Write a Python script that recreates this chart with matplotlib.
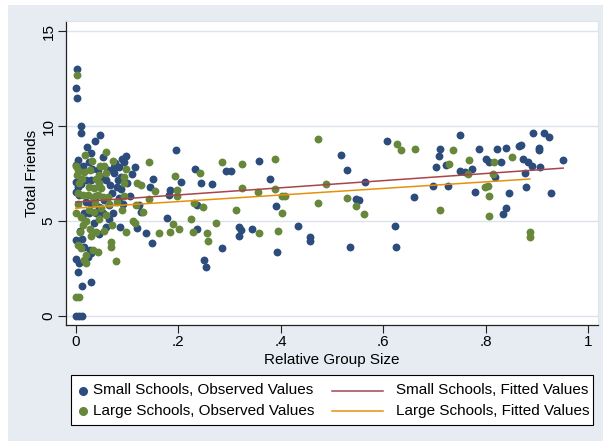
import numpy as np
import matplotlib.pyplot as plt
from matplotlib.patches import Rectangle
from matplotlib.lines import Line2D

plt.rcParams['font.family'] = ['Liberation Sans', 'DejaVu Sans']

# Small schools: relative group size, total friends
small_x = [0.002, 0.001, 0.003, 0.010, 0.010, 0.038, 0.047, 0.021, 0.030, 0.054,
           0.004, 0.001, 0.090, 0.098, 0.075, 0.085, 0.077, 0.032, 0.044, 0.062,
           0.074, 0.075, 0.000, 0.010, 0.020, 0.030, 0.059, 0.066, 0.082, 0.080,
           0.088, 0.000, 0.007, 0.020, 0.030, 0.045, 0.065, 0.016, 0.026, 0.040,
           0.053, 0.073, 0.086, 0.000, 0.012, 0.017, 0.027, 0.030, 0.023, 0.000,
           0.006, 0.004, 0.012, 0.030, 0.000, 0.007, 0.012, 0.005, 0.040, 0.055,
           0.070, 0.012, 0.035, 0.060, 0.008, 0.045, 0.065, 0.050, 0.015, 0.025,
           0.100, 0.105, 0.092, 0.110, 0.084,
           0.094, 0.116, 0.088, 0.196, 0.150, 0.144, 0.183, 0.181, 0.205, 0.233,
           0.245, 0.265, 0.293, 0.302, 0.358, 0.124, 0.236, 0.178, 0.120, 0.138,
           0.148, 0.236, 0.285, 0.250, 0.254, 0.319, 0.322, 0.319, 0.343, 0.127,
           0.379, 0.391, 0.393, 0.433, 0.457, 0.457, 0.517, 0.529, 0.547, 0.553,
           0.564, 0.535, 0.607, 0.623, 0.625, 0.660, 0.697, 0.703, 0.710, 0.708,
           0.723, 0.726, 0.750, 0.749, 0.760, 0.773, 0.787, 0.779, 0.800, 0.806,
           0.821, 0.829, 0.819, 0.839, 0.845, 0.840, 0.833, 0.864, 0.868, 0.872,
           0.883, 0.890, 0.877, 0.879, 0.892, 0.903, 0.903, 0.906, 0.914, 0.924,
           0.927, 0.951]
small_y = [13.00, 11.98, 11.49, 10.00, 9.65, 9.23, 9.51, 8.91, 8.60, 8.35,
           8.20, 7.96, 8.26, 8.42, 7.86, 7.86, 8.07, 7.72, 7.68, 7.68,
           7.77, 7.51, 7.07, 6.95, 7.16, 7.16, 7.16, 6.89, 7.16, 6.81,
           6.67, 6.54, 6.37, 6.00, 5.90, 5.75, 5.85, 5.40, 5.45, 5.40,
           5.45, 5.45, 4.67, 4.00, 4.04, 3.65, 3.47, 3.30, 3.12, 2.98,
           2.80, 2.33, 1.58, 1.81, 0.00, 0.00, 0.00, 6.80, 6.30, 6.10,
           6.50, 5.20, 4.90, 4.70, 4.50, 4.30, 5.10, 7.30, 7.90, 8.10,
           7.00, 6.30, 5.90, 7.50, 6.20,
           8.12, 7.86, 7.33, 8.74, 7.19, 6.81, 6.63, 6.37, 7.07, 7.72,
           7.02, 6.95, 7.62, 7.62, 8.16, 5.84, 5.84, 5.14, 4.61, 4.39,
           3.86, 4.58, 3.60, 2.95, 2.56, 4.70, 4.53, 4.21, 4.56, 5.49,
           7.21, 5.79, 3.37, 4.74, 4.14, 3.96, 8.49, 7.67, 6.16, 6.11,
           7.07, 3.65, 9.21, 4.74, 3.65, 6.28, 6.84, 7.83, 8.77, 8.42,
           7.95, 6.84, 9.53, 7.63, 7.60, 7.72, 8.81, 6.54, 8.26, 8.09,
           8.77, 8.09, 7.33, 8.82, 6.46, 5.68, 5.35, 8.95, 9.00, 8.26,
           8.12, 7.89, 7.51, 6.77, 9.61, 8.83, 8.74, 7.83, 9.61, 9.44,
           6.49, 8.21]

# Large schools
large_x = [0.002, 0.060, 0.018, 0.031, 0.072, 0.047, 0.055, 0.000, 0.004, 0.002,
           0.017, 0.027, 0.046, 0.059, 0.007, 0.040, 0.046, 0.036, 0.049, 0.004,
           0.014, 0.023, 0.033, 0.043, 0.053, 0.062, 0.118, 0.005, 0.025, 0.000,
           0.010, 0.020, 0.035, 0.045, 0.060, 0.015, 0.028, 0.040, 0.055, 0.070,
           0.004, 0.010, 0.069, 0.069, 0.033, 0.043, 0.020, 0.017, 0.020, 0.079,
           0.000, 0.006, 0.080, 0.090, 0.065, 0.012, 0.025, 0.038, 0.050, 0.030,
           0.008,
           0.143, 0.099, 0.094, 0.094, 0.119, 0.155, 0.194, 0.243, 0.285, 0.325,
           0.198, 0.198, 0.095, 0.142, 0.131, 0.231, 0.248, 0.312, 0.324, 0.356,
           0.112, 0.116, 0.098, 0.189, 0.202, 0.184, 0.163, 0.225, 0.229, 0.274,
           0.256, 0.259, 0.358, 0.127,
           0.389, 0.389, 0.402, 0.408, 0.402, 0.395, 0.473, 0.488, 0.473, 0.529,
           0.547, 0.563, 0.626, 0.634, 0.661, 0.711, 0.728, 0.736, 0.768, 0.766,
           0.799, 0.805, 0.806, 0.806, 0.816, 0.815, 0.852, 0.886, 0.886]
large_y = [12.68, 8.65, 8.47, 8.17, 8.16, 7.89, 7.89, 7.90, 7.70, 7.40,
           7.60, 7.68, 7.42, 7.54, 6.98, 7.19, 6.98, 6.72, 6.72, 6.46,
           6.37, 6.37, 6.28, 6.37, 6.28, 6.28, 5.84, 5.90, 5.60, 5.40,
           5.20, 5.00, 5.50, 5.10, 5.30, 4.80, 4.60, 4.40, 4.50, 4.80,
           3.74, 3.56, 3.91, 3.65, 3.47, 3.38, 3.21, 2.95, 2.80, 2.91,
           0.98, 0.98, 6.00, 5.60, 5.90, 7.20, 6.80, 5.95, 5.70, 4.20,
           4.40,
           8.12, 7.72, 7.30, 7.00, 6.98, 6.60, 7.39, 7.54, 8.09, 7.98,
           6.63, 6.32, 6.33, 6.14, 5.49, 5.93, 5.72, 5.58, 6.72, 6.54,
           5.00, 4.91, 4.44, 4.84, 4.58, 4.44, 4.35, 5.09, 4.44, 4.88,
           4.35, 3.96, 4.35, 6.89,
           8.26, 6.70, 6.32, 6.32, 5.40, 4.49, 9.33, 6.95, 5.96, 6.19,
           5.79, 5.35, 9.05, 8.74, 8.77, 5.58, 8.00, 8.74, 8.21, 7.47,
           6.81, 6.84, 6.30, 5.26, 8.12, 7.46, 8.39, 4.40, 4.17]

# fitted lines (intercept, slope)
small_fit = [6.00, 1.88]
large_fit = [5.68, 1.73]

labels = ["Small Schools, Observed Values", "Large Schools, Observed Values",
          "Small Schools, Fitted Values", "Large Schools, Fitted Values"]

navy = "#2c4c7c"
green = "#67883a"
maroon = "#a8454b"
orange = "#e8900c"

W, H = 603, 441


def fx(px):
    return px / W


def fy(py):
    return 1 - py / H


fig = plt.figure(figsize=(6.03, 4.41), dpi=100, facecolor="white")
fig.patches.append(Rectangle((fx(8), 0), 1, fy(5), transform=fig.transFigure,
                             facecolor="#e7ebf2", edgecolor="none", zorder=-10))
ax = fig.add_axes([fx(66), fy(325), 532 / W, 304 / H])
ax.set_facecolor("white")

ax.scatter(small_x, small_y, s=32, color=navy, linewidths=0, zorder=3)
ax.scatter(large_x, large_y, s=32, color=green, linewidths=0, zorder=3)

xs = np.array([min(small_x), max(small_x)])
ax.plot(xs, small_fit[0] + small_fit[1] * xs, color=maroon, lw=1.1, zorder=4)
xl = np.array([min(large_x), max(large_x)])
ax.plot(xl, large_fit[0] + large_fit[1] * xl, color=orange, lw=1.1, zorder=4)

ax.set_xlim(-0.019, 1.019)
ax.set_ylim(-0.47, 15.53)
ax.set_xticks([0, 0.2, 0.4, 0.6, 0.8, 1])
ax.set_xticklabels(["0", ".2", ".4", ".6", ".8", "1"])
ax.set_yticks([0, 5, 10, 15])
ax.set_yticklabels(["0", "5", "10", "15"], rotation=90, va="center")
ax.tick_params(direction="out", length=6, width=0.8, labelsize=11,
               color="#222222", pad=1.5)
ax.grid(axis="y", color="#dde3ec", lw=1)
ax.set_axisbelow(True)
for side in ["top", "right"]:
    ax.spines[side].set_color("#dde3ec")
for side in ["left", "bottom"]:
    ax.spines[side].set_color("#222222")
    ax.spines[side].set_linewidth(0.9)

ax.set_xlabel("Relative Group Size", fontsize=11, va="center")
ax.xaxis.set_label_coords(0.5, (325 - 360) / 304)
ax.set_ylabel("Total Friends", fontsize=11, va="center")
ax.yaxis.set_label_coords((32.5 - 66) / 532, 0.5)

# legend box drawn by hand, two columns like Stata
fig.patches.append(Rectangle((fx(71), fy(425)), 522 / W, 50 / H,
                             transform=fig.transFigure, facecolor="white",
                             edgecolor="black", lw=0.8, zorder=5))
rows = [390.5, 411]
for i, (col, row) in enumerate(zip([navy, green], rows)):
    fig.add_artist(Line2D([fx(82.7)], [fy(row)], marker="o", ls="none",
                          color=col, markersize=5.5, transform=fig.transFigure,
                          zorder=6))
    fig.text(fx(93.5), fy(row), labels[i], fontsize=11, va="center", ha="left",
             zorder=6)
for i, (col, row) in enumerate(zip([maroon, orange], rows)):
    fig.add_artist(Line2D([fx(331.7), fx(383.3)], [fy(row), fy(row)], color=col,
                          lw=1.1, transform=fig.transFigure, zorder=6))
    fig.text(fx(395.5), fy(row), labels[i + 2], fontsize=11, va="center",
             ha="left", zorder=6)

fig.savefig("out.png", dpi=100, facecolor=fig.get_facecolor())
